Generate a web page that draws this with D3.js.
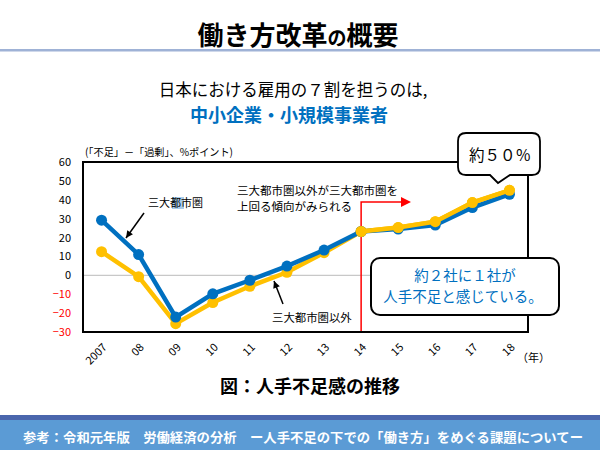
<!DOCTYPE html>
<html><head><meta charset="utf-8">
<script src="https://cdn.jsdelivr.net/npm/d3@7/dist/d3.min.js"></script>
<style>body{margin:0;background:#fff}svg{display:block}text{font-family:"Noto Sans CJK JP","Noto Sans",sans-serif}</style>
</head><body>
<svg id="c" width="600" height="450"></svg>
<script>
const years = ["2007","08","09","10","11","12","13","14","15","16","17","18"];
const metro = [29.2,11,-22.1,-9.8,-2.6,4.9,13.4,23.2,24.5,26.6,35.9,42.9];
const nonMetro = [12.5,-0.7,-25.6,-14.4,-5.8,1.6,12,23.2,25.3,28.4,38.5,45];
const yTicks = [60,50,40,30,20,10,0,-10,-20,-30];

const svg = d3.select("#c");
const L=83,R=528,T=162,B=332;
const x = d3.scaleBand().domain(years).range([L,R]);
const xc = d => x(d)+x.bandwidth()/2;
const y = d3.scaleLinear().domain([-30,60]).range([B,T]);

// title
const tt = svg.append("text").attr("x",298).attr("y",45).attr("text-anchor","middle")
  .attr("font-weight","bold").attr("font-size",26).attr("fill","#000");
tt.append("tspan").text("働き方改革");
tt.append("tspan").attr("font-size",19).text("の");
tt.append("tspan").text("概要");
svg.append("rect").attr("x",0).attr("y",49).attr("width",600).attr("height",2.5).attr("fill","#9fb2d6");

svg.append("text").attr("x",293).attr("y",96).attr("text-anchor","middle").attr("font-size",16.5).attr("fill","#000")
  .text("日本における雇用の７割を担うのは,");
svg.append("text").attr("x",289).attr("y",122).attr("text-anchor","middle").attr("font-size",18).attr("font-weight","bold").attr("fill","#0070c0")
  .text("中小企業・小規模事業者");

// axis unit label
svg.append("text").attr("x",85).attr("y",156).attr("font-size",10.5).attr("fill","#000")
  .attr("textLength",148).attr("lengthAdjust","spacingAndGlyphs")
  .text("(「不足」－「過剰」、%ポイント)");

// zero line
svg.append("line").attr("x1",L).attr("x2",R).attr("y1",y(0)).attr("y2",y(0)).attr("stroke","#c8c8c8").attr("stroke-width",1.2);

// y axis labels
const ya = svg.append("g").attr("transform",`translate(${L},0)`)
  .call(d3.axisLeft(y).tickValues(yTicks).tickSize(0).tickPadding(12));
ya.select(".domain").remove();
ya.selectAll("text").attr("font-family","Liberation Sans, Arial, sans-serif").attr("font-size",11)
  .attr("fill",d=>d<0?"#ff0000":"#000");

// x axis labels
const xa = svg.append("g").attr("transform",`translate(0,${B})`)
  .call(d3.axisBottom(x).tickSize(0).tickPadding(0));
xa.select(".domain").remove();
xa.selectAll("text").attr("font-family","Liberation Sans, Arial, sans-serif").attr("font-size",11).attr("fill","#000")
  .attr("text-anchor","end").attr("dy",0)
  .attr("transform","translate(6,16) rotate(-45)");
svg.append("text").attr("x",517).attr("y",362).attr("font-size",11).attr("fill","#000").text("（年）");

// red line
const rx = xc("14");
svg.append("path").attr("d",`M${rx},${B}V202H402`).attr("fill","none").attr("stroke","#ff0000").attr("stroke-width",1.5);
svg.append("path").attr("d",`M411,202L401,197L401,207Z`).attr("fill","#ff0000");

// lines
const line = (arr)=>d3.line().x((d,i)=>xc(years[i])).y(d=>y(d))(arr);
svg.append("path").attr("d",line(nonMetro)).attr("fill","none").attr("stroke","#ffc000").attr("stroke-width",4.5);
svg.append("g").selectAll("circle").data(nonMetro).join("circle")
  .attr("cx",(d,i)=>xc(years[i])).attr("cy",d=>y(d)).attr("r",5.5).attr("fill","#ffc000");
svg.append("path").attr("d",line(metro)).attr("fill","none").attr("stroke","#0070c0").attr("stroke-width",4.5);
svg.append("g").selectAll("circle").data(metro).join("circle")
  .attr("cx",(d,i)=>xc(years[i])).attr("cy",d=>y(d)).attr("r",5.5).attr("fill","#0070c0");
// re-draw nonMetro on top for 2014-18 where it overlaps
const late = nonMetro.map((d,i)=>i>=7?d:null);
svg.append("path").attr("d",d3.line().defined(d=>d!==null).x((d,i)=>xc(years[i])).y(d=>y(d))(late))
  .attr("fill","none").attr("stroke","#ffc000").attr("stroke-width",4.5);
svg.append("g").selectAll("circle").data(nonMetro.slice(7)).join("circle")
  .attr("cx",(d,i)=>xc(years[i+7])).attr("cy",d=>y(d)).attr("r",5.5).attr("fill","#ffc000");

// frame
svg.append("rect").attr("x",L).attr("y",T).attr("width",R-L).attr("height",B-T).attr("fill","none").attr("stroke","#000").attr("stroke-width",2);

// annotations
svg.append("text").attr("x",237).attr("y",195).attr("font-size",11.5).attr("fill","#000").text("三大都市圏以外が三大都市圏を");
svg.append("text").attr("x",237).attr("y",211).attr("font-size",11.5).attr("fill","#000").text("上回る傾向がみられる");

svg.append("rect").attr("x",172).attr("y",197).attr("width",12).attr("height",12).attr("fill","#a9cbe8");
svg.append("text").attr("x",148).attr("y",207).attr("font-size",11).attr("fill","#000").text("三大都市圏");
svg.append("text").attr("x",272).attr("y",322).attr("font-size",11.4).attr("fill","#000").text("三大都市圏以外");

function arrow(x1,y1,x2,y2){
  svg.append("line").attr("x1",x1).attr("y1",y1).attr("x2",x2).attr("y2",y2).attr("stroke","#000").attr("stroke-width",1.5);
  const a=Math.atan2(y2-y1,x2-x1), s=7, w=3.5;
  const bx=x2-s*Math.cos(a), by=y2-s*Math.sin(a);
  svg.append("path").attr("d",`M${x2},${y2}L${bx+w*Math.sin(a)},${by-w*Math.cos(a)}L${bx-w*Math.sin(a)},${by+w*Math.cos(a)}Z`).attr("fill","#000");
}
arrow(144,213,126,238);
arrow(283,304,274,281);

// callout 約50%
svg.append("path").attr("d","M466,133H532Q540,133 540,141V167Q540,175 532,175H510L498,183L490,175H466Q458,175 458,167V141Q458,133 466,133Z")
  .attr("fill","#fff").attr("stroke","#000").attr("stroke-width",1.8);
svg.append("text").attr("x",500).attr("y",161).attr("text-anchor","middle").attr("font-size",15.5).attr("fill","#000").text("約５０％");

// blue message box
svg.append("rect").attr("x",371).attr("y",258).attr("width",188).attr("height",57).attr("rx",9)
  .attr("fill","#fff").attr("stroke","#000").attr("stroke-width",2);
svg.append("text").attr("x",465).attr("y",281).attr("text-anchor","middle").attr("font-size",14.5).attr("fill","#0070c0").text("約２社に１社が");
svg.append("text").attr("x",463).attr("y",302).attr("text-anchor","middle").attr("font-size",14.5).attr("fill","#0070c0").text("人手不足と感じている。");

// figure caption
svg.append("text").attr("x",310).attr("y",393).attr("text-anchor","middle").attr("font-size",18).attr("font-weight","bold").attr("fill","#000").text("図：人手不足感の推移");

// footer
svg.append("rect").attr("x",0).attr("y",415).attr("width",600).attr("height",35).attr("fill","#5b9bd5");
svg.append("rect").attr("x",0).attr("y",415).attr("width",600).attr("height",5).attr("fill","#4a66ad");
svg.append("text").attr("x",23).attr("y",442).attr("font-size",13).attr("font-weight","bold").attr("fill","#fff")
  .attr("textLength",560).attr("lengthAdjust","spacingAndGlyphs")
  .text("参考：令和元年版　労働経済の分析　ー人手不足の下での「働き方」をめぐる課題についてー");
</script>
</body></html>
